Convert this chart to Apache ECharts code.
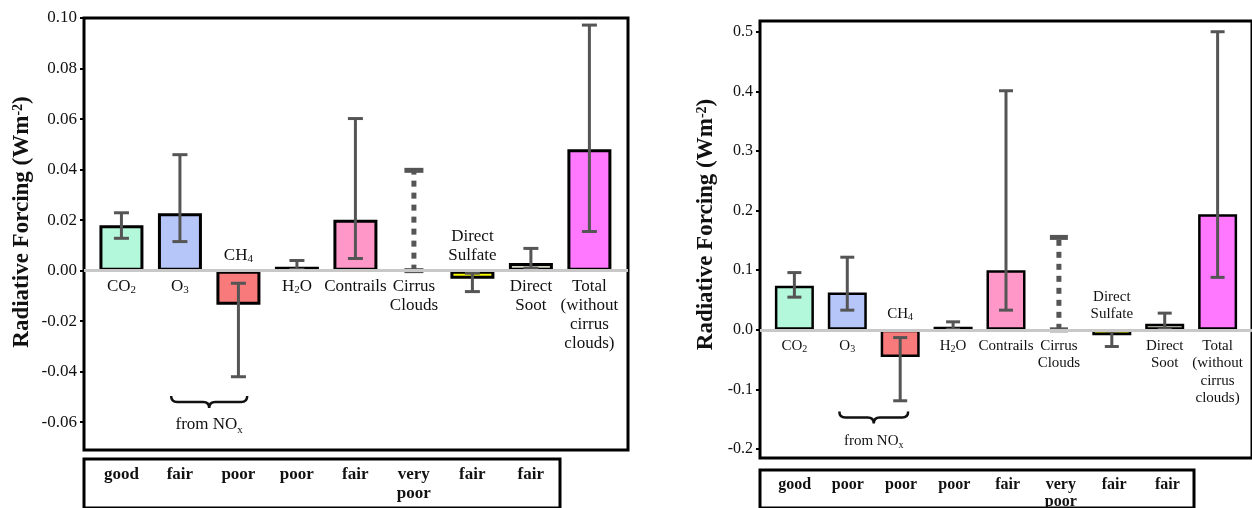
<!DOCTYPE html>
<html>
<head>
<meta charset="utf-8">
<script src="https://cdn.jsdelivr.net/npm/echarts@6/dist/echarts.min.js"></script>
<style>
  html, body { margin: 0; padding: 0; background: #fff; }
  #main { width: 1252px; height: 508px; }
</style>
</head>
<body>
<div id="main"></div>
<script>
// --- data ---
const categories = ['CO2', 'O3', 'CH4', 'H2O', 'Contrails', 'Cirrus Clouds', 'Direct Sulfate', 'Direct Soot', 'Total (without cirrus clouds)'];
const labelTexts = [
  '{n|CO}{s|2}', '{n|O}{s|3}', '{n|CH}{s|4}', '{n|H}{s|2}{n|O}', '{n|Contrails}',
  '{n|Cirrus}\n{n|Clouds}', '{n|Direct}\n{n|Sulfate}', '{n|Direct}\n{n|Soot}',
  '{n|Total}\n{n|(without}\n{n|cirrus}\n{n|clouds)}'
];
const colorsA = ['#b3f8da', '#b6c6f8', '#f87a7a', '#c8163e', '#ff98c8', null, '#f8f800', '#d8d8c8', '#ff78ff'];
const colorsB = ['#b3f8da', '#b6c6f8', '#f87a7a', '#111111', '#ff98c8', null, '#f8f800', '#d8d8c8', '#ff78ff'];

// left chart
const valuesA = [0.018, 0.0227, -0.0135, 0.0015, 0.0201, null, -0.0032, 0.003, 0.048];
const lowA = [0.0128, 0.0115, -0.042, 0.0005, 0.0048, 0, -0.0083, 0.001, 0.0155];
const highA = [0.0229, 0.0459, -0.005, 0.004, 0.0602, 0.0397, -0.001, 0.0088, 0.0972];
const qualityA = ['good', 'fair', 'poor', 'poor', 'fair', 'very\npoor', 'fair', 'fair'];
const ticksA = [-0.06, -0.04, -0.02, 0, 0.02, 0.04, 0.06, 0.08, 0.10];

// right chart
const valuesB = [0.074, 0.0625, -0.0457, 0.005, 0.1, null, -0.009, 0.01, 0.194];
const lowB = [0.0548, 0.033, -0.119, 0.001, 0.033, 0, -0.028, 0.001, 0.088];
const highB = [0.096, 0.1218, -0.013, 0.0134, 0.401, 0.155, -0.002, 0.028, 0.5];
const qualityB = ['good', 'poor', 'poor', 'poor', 'fair', 'very\npoor', 'fair', 'fair'];
const ticksB = [-0.2, -0.1, 0, 0.1, 0.2, 0.3, 0.4, 0.5];

const dashedIdx = 5; // cirrus clouds: dashed range only
const SERIF = "'Liberation Serif', 'DejaVu Serif', serif";
const ERR = '#555555';

const chart = echarts.init(document.getElementById('main'));

function errorItem(capW) {
  return function (params, api) {
    const x = api.value(0);
    const dashed = api.value(3) === 1;
    const p1 = api.coord([x, api.value(1)]);
    const p2 = api.coord([x, api.value(2)]);
    const lw = dashed ? 5 : 3;
    const cw = dashed ? capW + 4 : capW;
    return {
      type: 'group',
      children: [
        { type: 'line', shape: { x1: p1[0], y1: p1[1], x2: p2[0], y2: p2[1] },
          style: { stroke: ERR, lineWidth: lw, lineDash: dashed ? [6, 6] : null } },
        { type: 'line', shape: { x1: p1[0] - cw / 2, y1: p1[1], x2: p1[0] + cw / 2, y2: p1[1] },
          style: { stroke: ERR, lineWidth: lw } },
        { type: 'line', shape: { x1: p2[0] - cw / 2, y1: p2[1], x2: p2[0] + cw / 2, y2: p2[1] },
          style: { stroke: ERR, lineWidth: lw } }
      ]
    };
  };
}

function richStyle(size, lh, bold) {
  return {
    n: { fontFamily: SERIF, fontSize: size, lineHeight: lh, fill: '#111', fontWeight: bold ? 'bold' : 'normal' },
    s: { fontFamily: SERIF, fontSize: Math.round(size * 0.65), fill: '#111', verticalAlign: 'bottom' }
  };
}

function labelItem(values, size, lh, gap) {
  return function (params, api) {
    const i = params.dataIndex;
    const p = api.coord([api.value(0), 0]);
    const above = values[i] !== null && values[i] < 0;
    return {
      type: 'text',
      x: p[0],
      y: above ? p[1] - gap : p[1] + gap,
      style: {
        text: labelTexts[i],
        align: 'center',
        verticalAlign: above ? 'bottom' : 'top',
        rich: richStyle(size, lh, false)
      }
    };
  };
}

function braceItem(size, yLevel, textLevel) {
  return function (params, api) {
    const a = api.coord([api.value(0) - 0.15, yLevel]);
    const b = api.coord([api.value(1) + 0.15, yLevel]);
    const t = api.coord([(api.value(0) + api.value(1)) / 2, textLevel]);
    const y = a[1], x1 = a[0], x2 = b[0], m = (x1 + x2) / 2, h = 6;
    const d = 'M' + x1 + ' ' + (y - h) + ' Q' + x1 + ' ' + y + ' ' + (x1 + h) + ' ' + y +
      ' L' + (m - h) + ' ' + y + ' Q' + m + ' ' + y + ' ' + m + ' ' + (y + h) +
      ' Q' + m + ' ' + y + ' ' + (m + h) + ' ' + y +
      ' L' + (x2 - h) + ' ' + y + ' Q' + x2 + ' ' + y + ' ' + x2 + ' ' + (y - h);
    return {
      type: 'group',
      children: [
        { type: 'path', shape: { pathData: d }, style: { stroke: '#111', lineWidth: 2.5, fill: null } },
        { type: 'text', x: t[0], y: t[1],
          style: { text: '{n|from NO}{s|x}', align: 'center', verticalAlign: 'middle', rich: richStyle(size, size + 4, false) } }
      ]
    };
  };
}

function tableItem(quality, size, lh, pad) {
  return function (params, api) {
    const i = params.dataIndex;
    const p = api.coord([api.value(0), 1]);
    const txt = quality[i].split('\n').map(function (s) { return '{n|' + s + '}'; }).join('\n');
    return {
      type: 'text', x: p[0], y: p[1] + pad,
      style: { text: txt, align: 'center', verticalAlign: 'top', rich: richStyle(size, lh, true) }
    };
  };
}

function panel(k, values, low, high, colors, quality, ticks, opt) {
  const g = k * 2;
  return {
    grids: [
      { left: opt.left, top: opt.top, width: opt.width, height: opt.height, show: true,
        borderColor: '#000', borderWidth: 3, backgroundColor: 'transparent' },
      { left: opt.left, top: opt.tableTop, width: opt.tableWidth, height: 60, show: true,
        borderColor: '#000', borderWidth: 3, backgroundColor: 'transparent' }
    ],
    xAxes: [
      { type: 'value', gridIndex: g, min: opt.xmin, max: opt.xmax, show: false },
      { type: 'value', gridIndex: g + 1, min: opt.xmin, max: 7.5, show: false }
    ],
    yAxes: [
      { type: 'value', gridIndex: g, min: opt.ymin, max: opt.ymax, position: 'left',
        name: '{a|Radiative Forcing (Wm}{b|-2}{a|)}', nameLocation: 'middle', nameGap: opt.nameGap,
        nameTextStyle: { padding: [0, 0, 0, opt.nameShift], rich: {
          a: { fontFamily: SERIF, fontSize: opt.nameSize, fontWeight: 'bold', color: '#111' },
          b: { fontFamily: SERIF, fontSize: Math.round(opt.nameSize * 0.6), fontWeight: 'bold', color: '#111', verticalAlign: 'top' }
        } },
        axisLine: { show: false, onZero: false },
        splitLine: { show: false },
        axisTick: { show: true, customValues: ticks, length: 4, lineStyle: { color: '#000', width: 2 } },
        axisLabel: { customValues: ticks, fontFamily: SERIF, fontSize: opt.tickSize, color: '#111', margin: 7,
          formatter: function (v) { return v.toFixed(opt.digits); } }
      },
      { type: 'value', gridIndex: g + 1, min: 0, max: 1, show: false }
    ],
    series: [
      { type: 'line', xAxisIndex: g, yAxisIndex: g, data: [], z: 1, silent: true,
        markLine: { symbol: 'none', silent: true, label: { show: false },
          lineStyle: { color: '#c8c8c8', width: 3, type: 'solid' }, data: [{ yAxis: 0 }] } },
      { type: 'bar', xAxisIndex: g, yAxisIndex: g, barWidth: opt.barWidth, z: 2,
        data: values.map(function (v, i) {
          return v === null ? null : { value: [i, v], itemStyle: { color: colors[i], borderColor: '#000', borderWidth: opt.border } };
        }).filter(function (d) { return d !== null; }) },
      { type: 'custom', xAxisIndex: g, yAxisIndex: g, z: 3, renderItem: errorItem(opt.capW),
        data: categories.map(function (c, i) { return [i, low[i], high[i], i === dashedIdx ? 1 : 0]; }) },
      { type: 'custom', xAxisIndex: g, yAxisIndex: g, z: 4, renderItem: labelItem(values, opt.labelSize, opt.labelLh, opt.labelGap),
        data: categories.map(function (c, i) { return [i, 0]; }) },
      { type: 'custom', xAxisIndex: g, yAxisIndex: g, z: 4, renderItem: braceItem(opt.labelSize, opt.braceY, opt.braceTextY),
        data: [[1, 2]] },
      { type: 'custom', xAxisIndex: g + 1, yAxisIndex: g + 1, z: 4,
        renderItem: tableItem(quality, opt.tableSize, opt.tableLh, opt.tablePad),
        data: quality.map(function (q, i) { return [i, 1]; }) }
    ]
  };
}

const A = panel(0, valuesA, lowA, highA, colorsA, qualityA, ticksA, {
  left: 84, top: 18, width: 544, height: 432, tableTop: 459, tableWidth: 476,
  xmin: -0.64, xmax: 8.66, ymin: -0.071, ymax: 0.10, digits: 2,
  nameGap: 50, nameSize: 23, nameShift: 24, tickSize: 17, barWidth: 44, capW: 15, border: 3,
  labelSize: 17, labelLh: 19, labelGap: 6, braceY: -0.052, braceTextY: -0.061,
  tableSize: 17, tableLh: 19, tablePad: 6
});
const B = panel(1, valuesB, lowB, highB, colorsB, qualityB, ticksB, {
  left: 760, top: 21, width: 495, height: 437, tableTop: 470, tableWidth: 434,
  xmin: -0.65, xmax: 8.65, ymin: -0.215, ymax: 0.518, digits: 1,
  nameGap: 42, nameSize: 23, nameShift: 30, tickSize: 16, barWidth: 39, capW: 14, border: 2.5,
  labelSize: 15, labelLh: 17.5, labelGap: 7, braceY: -0.147, braceTextY: -0.187,
  tableSize: 16, tableLh: 17, tablePad: 6
});

chart.setOption({
  animation: false,
  backgroundColor: '#fff',
  grid: A.grids.concat(B.grids),
  xAxis: A.xAxes.concat(B.xAxes),
  yAxis: A.yAxes.concat(B.yAxes),
  series: A.series.concat(B.series)
});
</script>
</body>
</html>
